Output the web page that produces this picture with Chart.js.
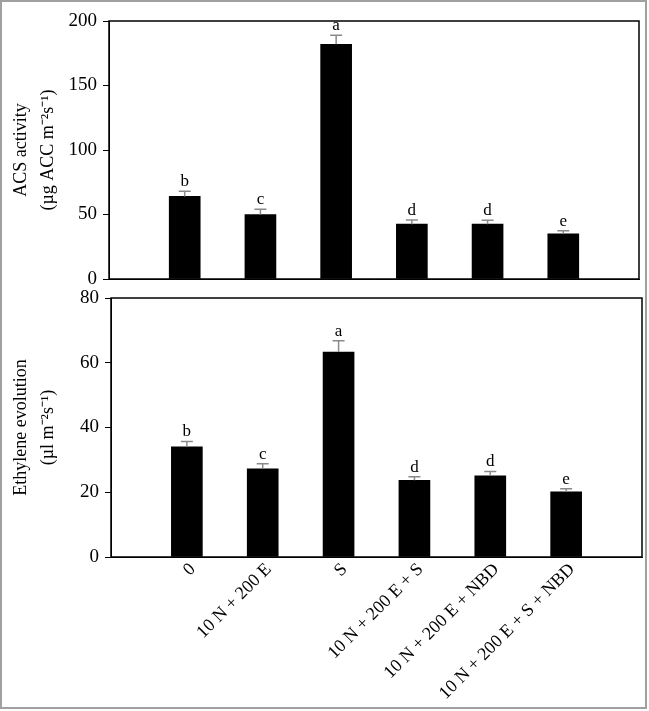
<!DOCTYPE html>
<html>
<head>
<meta charset="utf-8">
<script src="https://cdn.jsdelivr.net/npm/chart.js@4/dist/chart.umd.min.js"></script>
<style>
    html, body { margin: 0; padding: 0; background: #fff; }
    #frame {
        position: absolute; left: 0; top: 0; width: 647px; height: 709px;
        box-sizing: border-box; border: 2px solid #a0a0a0;
    }
    canvas { position: absolute; left: 0; }
    #acsChart { top: 0; }
    #ethyleneChart { top: 280px; }
</style>
</head>
<body>
<div id="frame"></div>
<canvas id="acsChart" width="649" height="292"></canvas>
<canvas id="ethyleneChart" width="649" height="428"></canvas>
<script>
const categories = ['0', '10 N + 200 E', 'S', '10 N + 200 E + S', '10 N + 200 E + NBD', '10 N + 200 E + S + NBD'];

const acsValues = [64, 50, 182, 42.5, 42.5, 35];
const acsErrors = [4, 4, 7, 3.2, 3, 2.5];
const acsLetters = ['b', 'c', 'a', 'd', 'd', 'e'];
const acsTicks = [0, 50, 100, 150, 200];

const ethyleneValues = [34, 27.2, 63.3, 23.7, 25.1, 20.1];
const ethyleneErrors = [1.7, 1.6, 3.5, 1.1, 1.3, 1];
const ethyleneLetters = ['b', 'c', 'a', 'd', 'd', 'e'];
const ethyleneTicks = [0, 20, 40, 60, 80];

const serif = '"Liberation Serif", "Times New Roman", serif';

Chart.defaults.font.family = serif;
Chart.defaults.color = '#000';

// empty slot on each side, like the original figure
const paddedLabels = ['', ...categories, ''];
const pad = arr => [null, ...arr, null];

const framePlugin = {
    id: 'frame',
    afterDraw(chart) {
        const { ctx, chartArea: a } = chart;
        ctx.save();
        ctx.strokeStyle = '#000';
        ctx.lineWidth = 1.5;
        ctx.strokeRect(a.left, a.top, a.right - a.left, a.bottom - a.top);
        ctx.restore();
    }
};

const errorBarPlugin = {
    id: 'errorBars',
    afterDatasetsDraw(chart, args, opts) {
        const { ctx } = chart;
        const yScale = chart.scales.y;
        const meta = chart.getDatasetMeta(0);
        const values = chart.data.datasets[0].data;
        ctx.save();
        opts.errors.forEach((err, i) => {
            const bar = meta.data[i + 1];
            const v = values[i + 1];
            const yBase = yScale.getPixelForValue(v);
            const yTop = yScale.getPixelForValue(v + err);
            ctx.strokeStyle = '#8a8a8a';
            ctx.lineWidth = 1.5;
            ctx.beginPath();
            ctx.moveTo(bar.x, yBase);
            ctx.lineTo(bar.x, yTop);
            ctx.moveTo(bar.x - 6, yTop);
            ctx.lineTo(bar.x + 6, yTop);
            ctx.stroke();
            ctx.fillStyle = '#000';
            ctx.font = '17px ' + serif;
            ctx.textAlign = 'center';
            ctx.textBaseline = 'bottom';
            ctx.fillText(opts.letters[i], bar.x, yTop - 1);
        });
        ctx.restore();
    }
};

function makeChart(id, values, errors, letters, ticks, title, opt) {
    const ctx = document.getElementById(id).getContext('2d');
    return new Chart(ctx, {
        type: 'bar',
        data: {
            labels: paddedLabels,
            datasets: [{
                data: pad(values),
                backgroundColor: '#000',
                borderWidth: 0,
                barThickness: 31
            }]
        },
        options: {
            responsive: false,
            animation: false,
            devicePixelRatio: 1,
            layout: { padding: opt.padding },
            plugins: {
                legend: { display: false },
                tooltip: { enabled: false },
                errorBars: { errors, letters }
            },
            scales: {
                x: {
                    offset: false,
                    grid: { display: false },
                    border: { display: true, color: '#000' },
                    ticks: {
                        display: opt.showLabels,
                        autoSkip: false,
                        minRotation: 45,
                        maxRotation: 45,
                        padding: -6,
                        labelOffset: 6,
                        font: { size: 18 }
                    },
                    afterFit: s => {
                        s.height = opt.xHeight;
                        s.paddingLeft = 0;
                        s.paddingRight = 0;
                    }
                },
                y: {
                    min: ticks[0],
                    max: ticks[ticks.length - 1],
                    afterBuildTicks: s => { s.ticks = ticks.map(v => ({ value: v })); },
                    grid: { drawOnChartArea: false, drawTicks: true, tickLength: 6, color: '#000' },
                    border: { display: true, color: '#000' },
                    ticks: { padding: 6, font: { size: 19 } },
                    title: {
                        display: true,
                        text: title,
                        font: { size: 18, lineHeight: 1.5 },
                        padding: { top: 0, bottom: 2 }
                    },
                    afterFit: s => {
                        s.width = opt.yWidth;
                        s.paddingTop = 0;
                        s.paddingBottom = 0;
                    }
                }
            }
        },
        plugins: [framePlugin, errorBarPlugin]
    });
}

makeChart('acsChart', acsValues, acsErrors, acsLetters, acsTicks,
    ['ACS activity', '(µg ACC m⁻²s⁻¹)'],
    { padding: { left: 8, top: 21, right: 10, bottom: 13 }, yWidth: 101, xHeight: 0, showLabels: false });

makeChart('ethyleneChart', ethyleneValues, ethyleneErrors, ethyleneLetters, ethyleneTicks,
    ['Ethylene evolution', '(µl m⁻²s⁻¹)'],
    { padding: { left: 8, top: 18, right: 7, bottom: 0 }, yWidth: 103, xHeight: 151, showLabels: true });
</script>
</body>
</html>
